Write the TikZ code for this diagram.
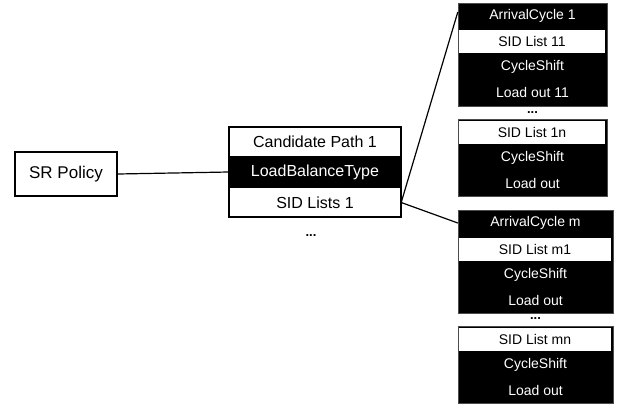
\documentclass[tikz,border=0pt]{standalone}
\usepackage{fontspec}
\setmainfont{Liberation Sans}
\begin{document}
\begin{tikzpicture}[x=1pt,y=-1pt,
  outline/.style={draw=black,line width=1.5pt},
  srbox/.style={outline,fill=white,minimum width=102pt,minimum height=44pt,
    inner sep=0pt,font=\fontsize{17}{20}\selectfont},
  cprow/.style={minimum width=172pt,inner sep=0pt,font=\fontsize{16}{19}\selectfont},
  cpdark/.style={cprow,fill=black,text=white},
  blockbox/.style={fill=black,draw=black!70,line width=0.6pt,inner sep=0pt},
  rowtext/.style={minimum height=25.75pt,inner sep=0pt,
    text=white,font=\fontsize{14}{16}\selectfont},
  rowlight/.style={fill=white,minimum height=23pt,inner sep=0pt,
    text=black,font=\fontsize{14}{16}\selectfont},
  upper/.style={minimum width=149pt},
  upperlight/.style={minimum width=146pt},
  lower/.style={minimum width=155pt},
  lowerlight/.style={minimum width=152pt},
  link/.style={draw=black,line width=1.2pt},
  dotsnode/.style={inner sep=0pt,font=\bfseries\fontsize{13}{16}\selectfont}]

\useasboundingbox (0,0) rectangle (618,407);

% SR Policy
\node[srbox] (sr) at (66,174) {SR Policy};

% candidate path table
\node[cprow,minimum height=29pt] (cp) at (315,141.5) {Candidate Path 1};
\node[cpdark,minimum height=32pt] (lbt) at (315,172) {LoadBalanceType};
\node[cprow,minimum height=29pt] (sid) at (315,202.5) {SID Lists 1};
\draw[outline] (cp.north west) rectangle (sid.south east);
\node[dotsnode] (cpdots) at (311,236) {...};

% first group of SID lists
\node[blockbox,upper,minimum height=103pt] (ga) at (532.5,54.5) {};
\node[rowtext,upper] (ac1) at (532.5,16) {ArrivalCycle 1};
\node[rowlight,upperlight] (s11) at (532,41.5) {SID List 11};
\node[rowtext,upper] (cs11) at (532.5,67) {CycleShift};
\node[rowtext,upper] (lo11) at (532.5,92) {Load out 11};
\node[dotsnode] (d1) at (532.5,113) {...};
\node[blockbox,upper,minimum height=77pt] (gb) at (532.5,157.5) {};
\node[rowlight,upperlight] (s1n) at (532,132) {SID List 1n};
\node[rowtext,upper] (cs1n) at (532.5,157.5) {CycleShift};
\node[rowtext,upper] (lo1n) at (532.5,183) {Load out};

% second group of SID lists
\node[blockbox,lower,minimum height=103pt] (gc) at (535.5,261.5) {};
\node[rowtext,lower] (acm) at (535.5,223) {ArrivalCycle m};
\node[rowlight,lowerlight] (sm1) at (535,249) {SID List m1};
\node[rowtext,lower] (csm1) at (535.5,274.5) {CycleShift};
\node[rowtext,lower] (lom1) at (535.5,300) {Load out};
\node[dotsnode] (d2) at (535.5,319) {...};
\node[blockbox,lower,minimum height=77pt] (gd) at (535.5,364.5) {};
\node[rowlight,lowerlight] (smn) at (535,339) {SID List mn};
\node[rowtext,lower] (csmn) at (535.5,364.5) {CycleShift};
\node[rowtext,lower] (lomn) at (535.5,390) {Load out};

% connectors
\draw[link] (sr.east) -- (lbt.west);
\draw[link] (sid.east) -- ([yshift=4pt]ac1.west);
\draw[link] (sid.east) -- (acm.west);
\end{tikzpicture}
\end{document}
